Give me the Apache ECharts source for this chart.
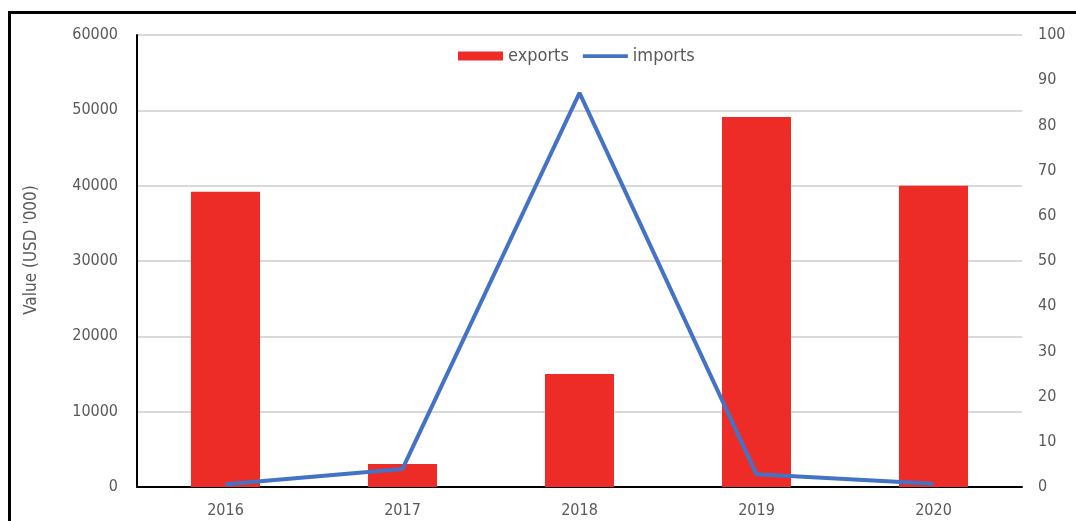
<!DOCTYPE html>
<html>
<head>
<meta charset="utf-8">
<title>exports / imports</title>
<script src="https://cdn.jsdelivr.net/npm/echarts@6/dist/echarts.min.js"></script>
<style>
  html, body { margin: 0; padding: 0; background: #fff; }
  #chart { position: absolute; left: 0; top: 0; width: 1076px; height: 521px; }
  #frame { position: absolute; left: 8px; top: 11px; width: 1100px; height: 560px;
           border-top: 3px solid #000; border-left: 3px solid #000; pointer-events: none; }
</style>
</head>
<body>
<div id="chart"></div>
<div id="frame"></div>
<script>
// 年份
var years = ['2016', '2017', '2018', '2019', '2020']
// 出口 (USD '000)
var exportsData = [39200, 3050, 15000, 49100, 40000]
// 进口 (右轴)
var importsData = [0.6, 4, 87.2, 2.8, 0.7]

var labelFont = '"DejaVu Sans Condensed", "DejaVu Sans", sans-serif'

var chart = echarts.init(document.getElementById('chart'))
chart.setOption({
  animation: false,
  textStyle: { fontFamily: labelFont },
  legend: {
    data: [
      { name: 'exports', icon: 'rect' },
      { name: 'imports', icon: 'path://M0,0 L48,0 L48,4 L0,4 Z' }
    ],
    top: 42,
    left: 453,
    itemGap: 14,
    itemWidth: 45,
    itemHeight: 9,
    textStyle: { color: '#595959', fontSize: 18, fontFamily: labelFont },
    selectedMode: false
  },
  grid: {
    left: 137,
    right: 54,
    top: 35,
    bottom: 34
  },
  xAxis: {
    type: 'category',
    data: years,
    axisTick: { show: false },
    axisLine: { lineStyle: { color: '#000', width: 2 } },
    axisLabel: { color: '#595959', fontSize: 16, margin: 16 }
  },
  yAxis: [
    {
      type: 'value',
      min: 0,
      max: 60000,
      interval: 10000,
      name: "Value (USD '000)",
      nameLocation: 'middle',
      nameGap: 97,
      nameTextStyle: { color: '#595959', fontSize: 17, padding: [0, 0, 0, 22] },
      axisLine: { show: true, lineStyle: { color: '#000', width: 2 } },
      axisTick: { show: false },
      axisLabel: {
        color: '#595959',
        fontSize: 16,
        margin: 19,
        formatter: function (v) { return String(v) }
      },
      splitLine: { lineStyle: { color: '#d9d9d9', width: 2 } }
    },
    {
      type: 'value',
      min: 0,
      max: 100,
      interval: 10,
      axisLine: { show: false },
      axisTick: { show: false },
      axisLabel: { color: '#595959', fontSize: 16, margin: 16 },
      splitLine: { show: false }
    }
  ],
  series: [
    {
      name: 'exports',
      type: 'bar',
      data: exportsData,
      barWidth: '39%',
      itemStyle: { color: '#ee2c27' }
    },
    {
      name: 'imports',
      type: 'line',
      yAxisIndex: 1,
      data: importsData,
      symbol: 'none',
      lineStyle: { color: '#4472c4', width: 4 },
      itemStyle: { color: '#4472c4' }
    }
  ]
})
</script>
</body>
</html>
